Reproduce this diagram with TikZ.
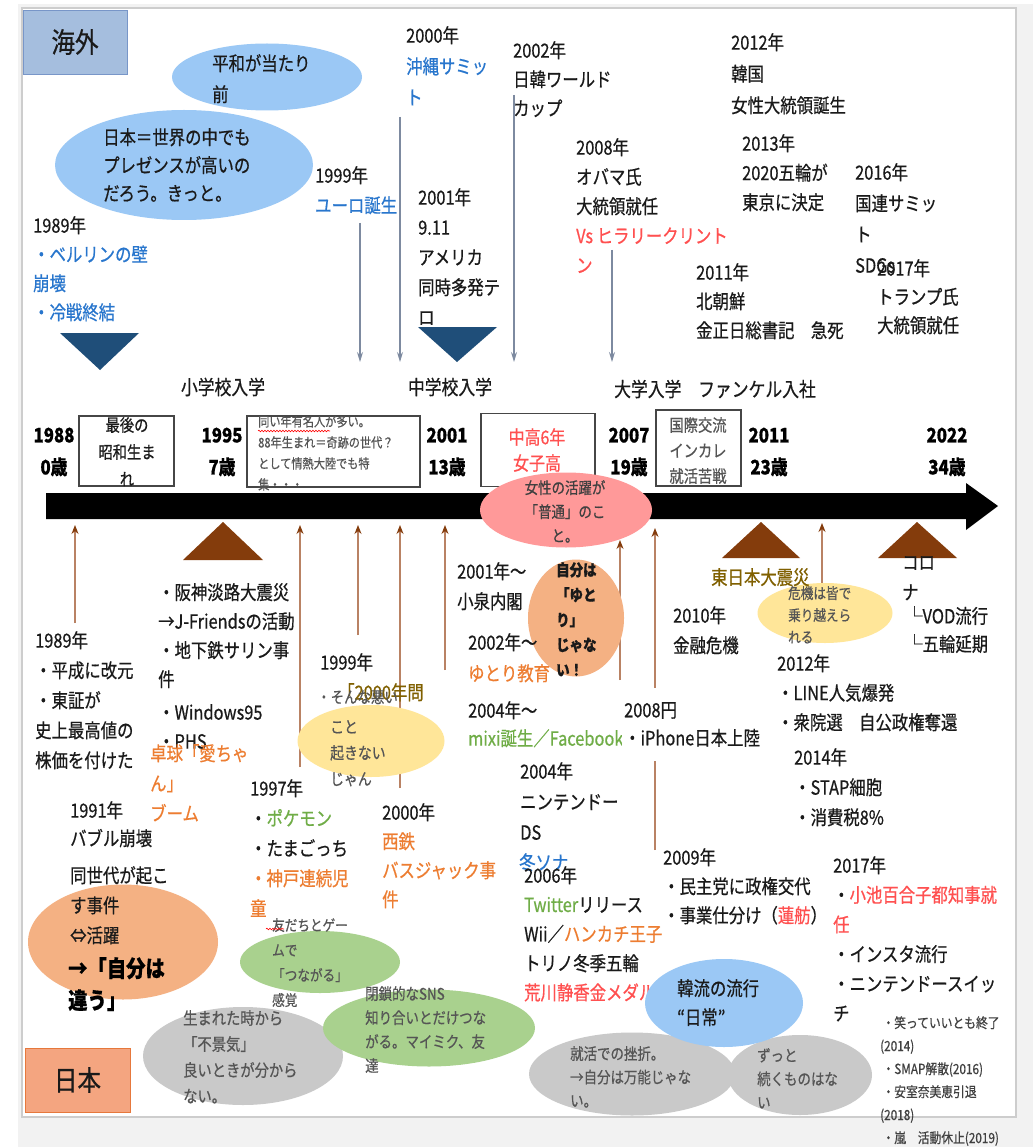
\documentclass[tikz,border=0pt]{standalone}
\usepackage{fontspec}
\newfontfamily\jp[FakeStretch=0.84,FakeBold=0.6]{Noto Sans CJK JP}
\usetikzlibrary{shapes.geometric,arrows.meta,decorations.pathmorphing}
\newcommand\jfs[2]{\fontsize{#1}{#2}\selectfont}
\definecolor{tblack}{RGB}{26,26,26}
\definecolor{tblue}{RGB}{40,118,205}
\definecolor{tred}{RGB}{255,80,80}
\definecolor{torange}{RGB}{237,125,49}
\definecolor{tgreen}{RGB}{112,173,71}
\definecolor{tgold}{RGB}{128,96,0}
\definecolor{tgray}{RGB}{85,85,85}
\definecolor{tdark}{RGB}{64,64,64}
\definecolor{elblue}{RGB}{155,200,245}
\definecolor{elpeach}{RGB}{244,177,131}
\definecolor{elpink}{RGB}{255,153,153}
\definecolor{elyellow}{RGB}{255,230,153}
\definecolor{elgreen}{RGB}{169,209,142}
\definecolor{elgray}{RGB}{201,201,201}
\definecolor{navy}{RGB}{31,78,121}
\definecolor{brownD}{RGB}{132,60,12}
\definecolor{brownL}{RGB}{185,130,100}
\definecolor{arrgray}{RGB}{125,138,160}
\definecolor{framec}{RGB}{205,205,205}
\definecolor{shadec}{RGB}{242,242,242}
\definecolor{boxc}{RGB}{70,70,70}
\definecolor{kaigaiF}{RGB}{165,190,222}
\definecolor{kaigaiD}{RGB}{120,150,200}
\definecolor{nihonF}{RGB}{244,165,128}
\definecolor{nihonD}{RGB}{230,120,60}
\begin{document}
\begin{tikzpicture}[x=1pt,y=-1pt,
  t/.style={anchor=north west, inner sep=0pt, align=left, text=tblack, font=\jp\jfs{19.5}{#1}},
  t/.default=29,
  tf/.style 2 args={anchor=north west, inner sep=0pt, align=left, text=tblack, font=\jp\jfs{#1}{#2}},
  tc/.style 2 args={anchor=north, inner sep=0pt, align=center, text=tblack, font=\jp\jfs{#1}{#2}},
  yr/.style={inner sep=0pt, align=center, text=black, font=\jp\bfseries\jfs{20}{32}},
  el/.style={ellipse, inner sep=0pt, draw=none},
  tlbox/.style={draw=boxc, line width=1.1pt, fill=white, inner sep=0pt},
  garr/.style={draw=arrgray, line width=1.1pt, -{Stealth[length=10pt,width=6pt]}},
  uarr/.style={draw=brownL, line width=1.2pt, -{Stealth[length=9pt,width=7pt,color=brownD]}},
  wavy/.style={draw=red, line width=0.6pt, decorate, decoration={snake, amplitude=0.8pt, segment length=3pt}}
]
\useasboundingbox (0,0) rectangle (1033,1147);
\fill[white] (0,0) rectangle (1033,1147);
\fill[shadec] (18,4) rectangle (1033,1147);
\draw[framec, fill=white, line width=1.2pt] (22,8) rectangle (1016,1117);

% region labels
\node[draw=kaigaiD, fill=kaigaiF, minimum width=104pt, minimum height=64pt, inner sep=0pt, font=\jp\jfs{28}{32}, text=tblack] (kaigai) at (75,42) {海外};
\node[draw=nihonD, fill=nihonF, minimum width=105pt, minimum height=64pt, inner sep=0pt, font=\jp\jfs{28}{32}, text=tblack] (nihon) at (77.5,1080) {日本};

% top ellipses
\node[el, fill=elblue, minimum width=190pt, minimum height=67pt] (eA) at (267,77) {};
\node[el, fill=elblue, minimum width=258pt, minimum height=110pt] (eB) at (184,165) {};
\node[t=31] (tA) at (212,54) {平和が当たり\\前};
\node[t=28] (tB) at (103,128) {日本＝世界の中でも\\プレゼンスが高いの\\だろう。きっと。};

% overseas events
\node[t=29] (o1989) at (33,216) {1989年\\{\color{tblue}・ベルリンの壁}\\{\color{tblue}崩壊}\\{\color{tblue}・冷戦終結}};
\node[t=30] (o1999) at (315,166) {1999年\\{\color{tblue}ユーロ誕生}};
\node[t=31] (o2000) at (406,26) {2000年\\{\color{tblue}沖縄サミッ}\\{\color{tblue}ト}};
\node[t=30] (o2001) at (418,188) {2001年\\9.11\\アメリカ\\同時多発テ\\ロ};
\node[t=29] (o2002) at (513,41) {2002年\\日韓ワールド\\カップ};
\node[t=29.5] (o2008) at (576,138) {2008年\\オバマ氏\\大統領就任\\{\color{tred}Vs ヒラリークリント}\\{\color{tred}ン}};
\node[t=31.5] (o2012) at (731,33) {2012年\\韓国\\女性大統領誕生};
\node[t=29.5] (o2013) at (742,134) {2013年\\2020五輪が\\東京に決定};
\node[t=31] (o2016) at (855,163) {2016年\\国連サミッ\\ト\\SDGs};
\node[t=28.5] (o2017) at (877,259) {2017年\\トランプ氏\\大統領就任};
\node[t=29] (o2011) at (696,263) {2011年\\北朝鮮\\金正日総書記　急死};

% gray arrows down to timeline
\foreach \i/\x/\ya/\yb in {1/360/223/362, 2/400/117/362, 3/514/95/362, 4/612/250/362} {
  \coordinate (ga\i) at (\x,\ya);
  \coordinate (gb\i) at (\x,\yb);
  \draw[garr] (ga\i) -- (gb\i);
}
\fill[navy] (60,333) -- (139,333) -- (100,370) -- cycle;
\fill[navy] (418,327) -- (497,327) -- (457,362) -- cycle;

% school labels
\node[tc={20}{24}, anchor=center] (sho) at (223,387) {小学校入学};
\node[tc={20}{24}, anchor=center] (chu) at (450,387) {中学校入学};
\node[tf={20}{24}, anchor=west] (dai) at (614,389) {大学入学　ファンケル入社};

% years
\node[yr] (a1988) at (54,452) {1988\\0歳};
\node[yr] (a1995) at (222,452) {1995\\7歳};
\node[yr] (a2001) at (447,452) {2001\\13歳};
\node[yr] (a2007) at (629,452) {2007\\19歳};
\node[yr] (a2011) at (769,452) {2011\\23歳};
\node[yr] (a2022) at (947,452) {2022\\34歳};

% boxes on timeline
\node[tlbox, minimum width=95pt, minimum height=70pt] (b1) at (126.5,451) {};
\node[tc={17}{27}] (b1t) at (127,417) {最後の\\昭和生ま\\れ};
\node[tlbox, minimum width=173pt, minimum height=71pt] (b2) at (333.5,451.5) {};
\node[tf={13.3}{21}, text=tgray] (b2t) at (258,415) {同い年有名人が多い。\\88年生まれ＝奇跡の世代？\\として情熱大陸でも特\\集・・・};
\draw[boxc, line width=1.1pt] (b2.north west) -- (b2.north east);
\draw[wavy] (258,431) -- (330,431);
\node[tlbox, minimum width=114pt, minimum height=73pt] (b3) at (538,450) {};
\node[tc={19}{26}, text=tred] (b3t) at (537,428) {中高6年\\女子高};
\node[tlbox, minimum width=85pt, minimum height=76pt] (b4) at (698.5,448) {};
\node[tc={17}{25.5}, text=tgray] (b4t) at (698,417) {国際交流\\インカレ\\就活苦戦};

% brown arrows up to timeline
\foreach \i/\x/\ya/\yb in {1/75/623/525, 2/300/767/525, 3/358/635/525, 4/400/788/525, 5/445/670/525, 6/620/680/540, 7/655/850/528, 8/822/590/523} {
  \coordinate (ua\i) at (\x,\ya);
  \coordinate (ub\i) at (\x,\yb);
  \draw[uarr] (ua\i) -- (ub\i);
}
\fill[brownD] (183,560) -- (263,560) -- (223,522) -- cycle;
\fill[brownD] (722,558) -- (800,558) -- (761,522) -- cycle;
\fill[brownD] (878,558) -- (957,558) -- (917,522) -- cycle;

% timeline bar
\fill[black] (46,493) -- (966,493) -- (966,483) -- (998,506) -- (966,530) -- (966,519) -- (46,519) -- cycle;

% pink ellipse
\node[el, fill=elpink, minimum width=172pt, minimum height=75pt] (ePink) at (566,510) {};
\node[tc={16}{24}, text=tdark] (tPink) at (565,480) {女性の活躍が\\「普通」のこ\\と。};

% bottom ellipses
\node[el, fill=elpeach, minimum width=190pt, minimum height=115pt] (eOr) at (123,942) {};
\node[el, fill=elyellow, minimum width=147pt, minimum height=72pt] (eYel1) at (371,741) {};
\node[el, fill=elgreen, minimum width=160pt, minimum height=62pt] (eGr1) at (320,962) {};
\node[el, fill=elgray, minimum width=200pt, minimum height=98pt] (eGy1) at (243,1056) {};
\node[el, fill=elgreen, minimum width=212pt, minimum height=77pt] (eGr2) at (429,1028) {};
\node[el, fill=elpeach, minimum width=96pt, minimum height=117pt] (ePe2) at (576,618) {};
\node[el, fill=elyellow, minimum width=135pt, minimum height=60pt] (eYel2) at (825,613) {};
\node[el, fill=elgray, minimum width=206pt, minimum height=83pt] (eGy2) at (632,1074) {};
\node[el, fill=elgray, minimum width=144pt, minimum height=80pt] (eGy3) at (800,1075) {};

% Japan events
\node[t=30] (j1989) at (35,631) {1989年\\・平成に改元\\・東証が\\史上最高値の\\株価を付けた};
\node[t=29] (j1995) at (158,583) {・阪神淡路大震災\\→J-Friendsの活動\\・地下鉄サリン事\\件\\[4pt]・Windows95\\・PHS};
\node[t=30, text=torange] (jAi) at (150,744) {卓球「愛ちゃ\\ん」\\ブーム};
\node[t=28] (j1991) at (70,801) {1991年\\バブル崩壊};
\node[t=30] (jSedai) at (70,866) {同世代が起こ\\す事件\\⇔活躍};
\node[anchor=north west, inner sep=0pt, align=left, text=black, font=\jp\bfseries\jfs{23}{32}] (jChigau) at (68,957) {→「自分は\\違う」};

\node[t=30] (j1999) at (320,653) {1999年};
\node[t, text=tgold] (j2000mon) at (338,683) {「2000年問};
\node[tf={16}{26}, text=tgray] (jSonna) at (317,690) {・そんな悪い};
\node[tf={16.5}{26}, text=tgray] (jKoto) at (330,720) {こと\\起きない\\じゃん};

\node[t=30] (j1997) at (250,779) {1997年\\・{\color{tgreen}ポケモン}\\・たまごっち\\{\color{torange}・神戸連続児}\\{\color{torange}童}};
\node[tf={15}{25}, text=tgray] (jTomo) at (272,918) {友だちとゲー\\ムで\\「つながる」\\感覚};
\draw[wavy] (266,929) -- (284,929);
\node[t=29] (j2000) at (382,803) {2000年\\{\color{torange}西鉄}\\{\color{torange}バスジャック事}\\{\color{torange}件}};
\node[tf={17}{26}, text=tgray] (jUmare) at (183,1010) {生まれた時から\\「不景気」\\良いときが分から\\ない。};
\node[tf={16}{24}, text=tgray] (jSNS) at (365,986) {閉鎖的なSNS\\知り合いとだけつな\\がる。マイミク、友\\達};

\node[t=30] (j2001) at (457,562) {2001年～\\小泉内閣};
\node[anchor=north west, inner sep=0pt, align=left, text=tblack, font=\jp\bfseries\jfs{16}{25}] (jYutoriJibun) at (556,562) {自分は\\「ゆと\\り」\\じゃな\\い！};
\node[t=31] (j2002) at (468,633) {2002年～\\{\color{torange}ゆとり教育}};
\node[t=28] (j2004) at (468,701) {2004年～\\{\color{tgreen}mixi誕生／Facebook}};
\node[t=28, fill=white, inner xsep=2pt, inner ysep=14pt] (j2008) at (622,688) {2008円\\・iPhone日本上陸};
\node[t=30.5] (j2004ds) at (520,762) {2004年\\ニンテンドー\\DS};
\node[t, text=tblue] (jFuyu) at (519,853) {冬ソナ};
\node[t=29.3] (j2006) at (524,866) {2006年\\{\color{tgreen}Twitter}リリース\\Wii／{\color{torange}ハンカチ王子}\\トリノ冬季五輪\\{\color{tred}荒川静香金メダル}};
\node[t=29] (j2009) at (663,848) {2009年\\・民主党に政権交代\\・事業仕分け（{\color{tred}蓮舫}）};

\node[t, text=tgold] (jHigashi) at (711,568) {東日本大震災};
\node[tf={15}{22}, text=tgray] (jKiki) at (788,586) {危機は皆で\\乗り越えら\\れる};
\node[t=30] (j2010) at (673,606) {2010年\\金融危機};
\node[t=30] (jCorona) at (902,556) {コロ\\ナ};
\node[t=28] (jVOD) at (906,606) {└VOD流行\\└五輪延期};
\node[t=29.5] (j2012) at (777,654) {2012年\\・LINE人気爆発\\・衆院選　自公政権奪還};
\node[t=30] (j2014) at (794,748) {2014年\\・STAP細胞\\・消費税8\%};
\node[t=29.6] (j2017) at (833,856) {2017年\\・{\color{tred}小池百合子都知事就}\\{\color{tred}任}\\・インスタ流行\\・ニンテンドースイッ\\チ};

\node[tf={16}{23.5}, text=tgray] (jShukatsu) at (570,1046) {就活での挫折。\\→自分は万能じゃな\\い。};
\node[tf={16}{23.5}, text=tgray] (jZutto) at (757,1048) {ずっと\\続くものはな\\い};

% Korean wave ellipse on top
\node[el, fill=elblue, minimum width=158pt, minimum height=88pt] (eBl3) at (724,1003) {};
\node[t=29] (jKanryu) at (677,979) {韓流の流行\\“日常”};

\node[tf={14}{23}, text=tdark] (jList) at (880,1016) {\,・笑っていいとも終了\\(2014)\\\,・SMAP解散(2016)\\\,・安室奈美恵引退\\(2018)\\\,・嵐　活動休止(2019)};
\end{tikzpicture}
\end{document}
